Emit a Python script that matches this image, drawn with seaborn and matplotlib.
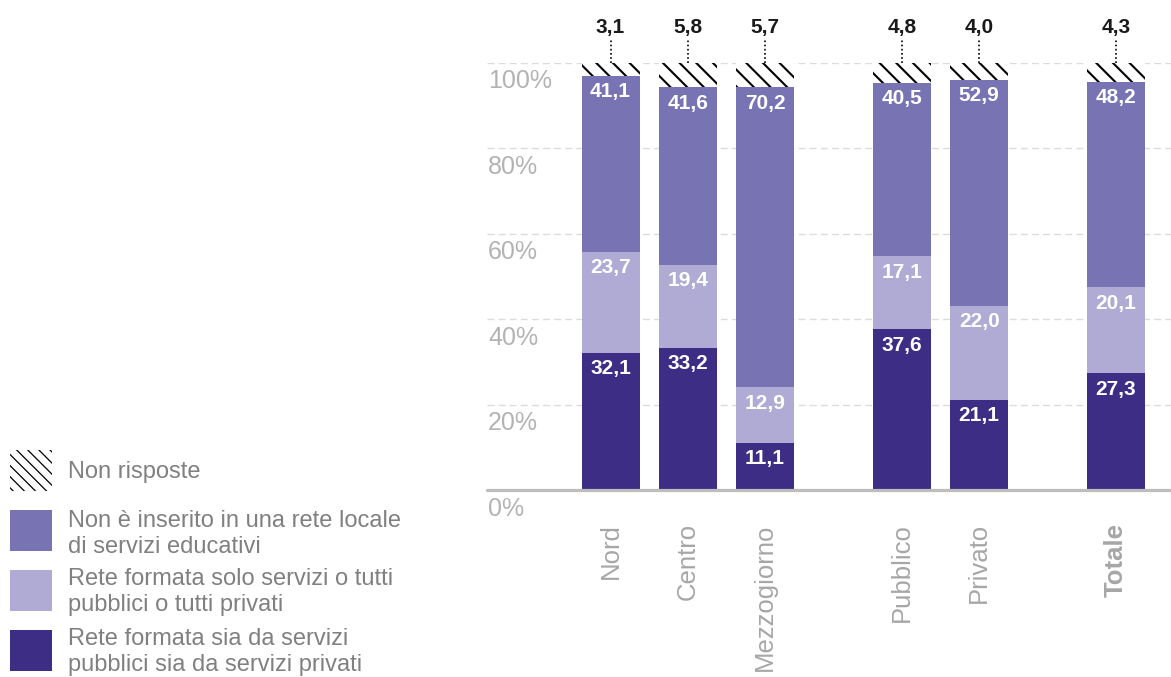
import matplotlib
matplotlib.use("Agg")
import matplotlib.pyplot as plt
from matplotlib.patches import Rectangle
from matplotlib.transforms import ScaledTranslation
import pandas as pd
import seaborn as sns

# ---- data -------------------------------------------------------------
categories = ["Nord", "Centro", "Mezzogiorno", "Pubblico", "Privato", "Totale"]
x_pos = [0.0, 1.0, 2.0, 3.77, 4.77, 6.54]          # grouped: area / gestione / totale
rete_mista = [32.1, 33.2, 11.1, 37.6, 21.1, 27.3]     # sia pubblici sia privati
rete_omogenea = [23.7, 19.4, 12.9, 17.1, 22.0, 20.1]  # tutti pubblici o tutti privati
non_inserito = [41.1, 41.6, 70.2, 40.5, 52.9, 48.2]
non_risposte = [3.1, 5.8, 5.7, 4.8, 4.0, 4.3]
y_ticks = [0, 20, 40, 60, 80, 100]
y_tick_labels = ["0%", "20%", "40%", "60%", "80%", "100%"]
legend_labels = [
    "Non risposte",
    "Non è inserito in una rete locale\ndi servizi educativi",
    "Rete formata solo servizi o tutti\npubblici o tutti privati",
    "Rete formata sia da servizi\npubblici sia da servizi privati",
]

# ---- style ------------------------------------------------------------
sns.set_style("white")
plt.rcParams["font.family"] = ["Liberation Sans", "DejaVu Sans"]

C_DARK = "#3E2D84"
C_LIGHT = "#AFABD5"
C_MID = "#7873B3"
GRID = "#dcdcdc"
AXIS_TXT = "#b3b3b3"
LEGEND_TXT = "#808080"

W_PX, H_PX = 1171, 677


def fx(px):
    return px / W_PX


def fy(py):
    return 1 - py / H_PX


df = pd.DataFrame({
    "categoria": categories,
    "pos": x_pos,
    "mista": rete_mista,
    "omogenea": rete_omogenea,
    "non_inserito": non_inserito,
    "non_risposte": non_risposte,
})
df["top1"] = df["mista"]
df["top2"] = df["top1"] + df["omogenea"]
df["top3"] = df["top2"] + df["non_inserito"]
df["top4"] = df["top3"] + df["non_risposte"]

fig = plt.figure(figsize=(W_PX / 100, H_PX / 100), dpi=100)
ax_left, ax_bottom = fx(487), fy(490)
ax_top = fy(62.7)
ax = fig.add_axes([ax_left, ax_bottom, 1 - ax_left, ax_top - ax_bottom])

# stacked bars: draw cumulative heights from the tallest down
plt.rcParams["hatch.linewidth"] = 1.5
layers = [
    ("top4", "white", "\\\\"),
    ("top3", C_MID, None),
    ("top2", C_LIGHT, None),
    ("top1", C_DARK, None),
]
for col, color, hatch in layers:
    kw = dict(data=df, x="pos", y=col, native_scale=True, orient="x",
              width=0.75, color=color, saturation=1, errorbar=None,
              linewidth=0, ax=ax)
    if hatch:
        kw.update(hatch=hatch, edgecolor="black")
    sns.barplot(**kw)

ax.set_xlim(-1.598, 7.251)
ax.set_ylim(0, 100)
ax.set_xlabel("")
ax.set_ylabel("")
for s in ax.spines.values():
    s.set_visible(False)

# grid and baseline
ax.set_axisbelow(True)
ax.yaxis.grid(True, linestyle=(0, (5, 3)), color=GRID, linewidth=1)
ax.xaxis.grid(False)
ax.axhline(0, color="#bdbdbd", linewidth=2.3, clip_on=False, zorder=3)

# y tick labels sit just under their gridline, left aligned
ax.set_yticks(y_ticks, y_tick_labels)
ax.tick_params(axis="y", length=0, pad=0, labelsize=18, labelcolor=AXIS_TXT)
shift = ScaledTranslation(0.01, -0.16, fig.dpi_scale_trans)
for lab in ax.get_yticklabels():
    lab.set_horizontalalignment("left")
    lab.set_transform(lab.get_transform() + shift)

# x tick labels
ax.set_xticks(x_pos, categories, rotation=90)
ax.tick_params(axis="x", length=0, pad=24, labelsize=18.5, labelcolor="#a6a6a6")
ax.get_xticklabels()[-1].set_fontweight("bold")


def fmt(v):
    return f"{v:.1f}".replace(".", ",")


# values inside segments, near each segment's top
for i, row in df.iterrows():
    for val, top in ((row["mista"], row["top1"]),
                     (row["omogenea"], row["top2"]),
                     (row["non_inserito"], row["top3"])):
        ax.annotate(fmt(val), xy=(row["pos"], top), xytext=(0, -4.5),
                    textcoords="offset points", ha="center", va="top",
                    color="white", fontweight="bold", fontsize=15)
    # non-response value above the bar, with a dotted leader
    ax.plot([row["pos"], row["pos"]], [row["top4"], 105.3], color="black",
            linestyle=(0, (1, 1.5)), linewidth=1.2, clip_on=False)
    ax.text(row["pos"], 108.2, fmt(row["non_risposte"]), ha="center",
            va="center", color="#1a1a1a", fontweight="bold", fontsize=15,
            clip_on=False)

# legend
legend_items = [
    (450, "white", "\\\\\\", 472),
    (510, C_MID, None, 534),
    (570, C_LIGHT, None, 592),
    (630, C_DARK, None, 652),
]
for (top_px, color, hatch, text_c), label in zip(legend_items, legend_labels):
    rect = Rectangle((fx(10), fy(top_px + 41)), 42 / W_PX, 41 / H_PX,
                     transform=fig.transFigure, facecolor=color,
                     edgecolor="black" if hatch else color, linewidth=0,
                     hatch=hatch)
    if hatch and hasattr(rect, "set_hatch_linewidth"):
        rect.set_hatch_linewidth(0.9)
    fig.add_artist(rect)
    fig.text(fx(68), fy(text_c), label, ha="left", va="center",
             fontsize=17, color=LEGEND_TXT, linespacing=1.23)

fig.savefig("out.png", dpi=100)
